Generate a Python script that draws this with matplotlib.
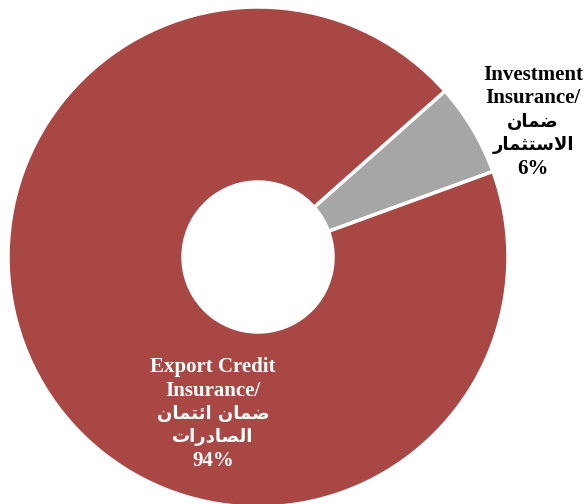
import matplotlib
matplotlib.use("Agg")
import matplotlib.pyplot as plt

# Arabic words written in presentation forms (visual order) so they render joined
ar_invest = ["\uFEE5\uFE8E\uFEE4\uFEBF", "\uFEAD\uFE8E\uFEE4\uFE9C\uFE98\uFEB3\uFEFB\uFE8D"]
ar_export = ["\uFEE5\uFE8E\uFEE4\uFE98\uFE8B\uFE8D \uFEE5\uFE8E\uFEE4\uFEBF",
             "\uFE95\uFE8D\uFEAD\uFEA9\uFE8E\uFEBC\uFEDF\uFE8D"]

en_names = [["Investment", "Insurance/"], ["Export Credit", "Insurance/"]]
ar_names = [ar_invest, ar_export]
shares = [6, 94]
colors = ["#A6A6A6", "#A84744"]
label_colors = ["black", "white"]
# top line anchor of each label (data coords)
label_pos = [(1.10, 0.73), (-0.18, -0.44)]

fig = plt.figure(figsize=(5.84, 5.04), dpi=100)
ax = fig.add_axes([8 / 584, -3 / 504, 500 / 584, 500 / 504])

wedges, _ = ax.pie(shares, colors=colors, startangle=41.6, counterclock=False,
                   radius=1, wedgeprops=dict(width=0.7, edgecolor="white", linewidth=2.5))
ax.set_xlim(-1, 1)
ax.set_ylim(-1, 1)
ax.set_aspect("equal")
ax.axis("off")

step = 23.5 * 0.72  # points between lines
for en, ar, val, c, (x, y) in zip(en_names, ar_names, shares, label_colors, label_pos):
    lines = [(t, "en") for t in en] + [(t, "ar") for t in ar] + [(f"{val}%", "en")]
    for i, (t, kind) in enumerate(lines):
        if kind == "en":
            kw = dict(fontsize=15, family="Liberation Serif")
        else:
            kw = dict(fontsize=13, family="DejaVu Sans")
        ax.annotate(t, (x, y), xytext=(0, -i * step), textcoords="offset points",
                    ha="center", va="center", color=c, fontweight="bold",
                    annotation_clip=False, **kw)

fig.savefig("out.png", dpi=100)
